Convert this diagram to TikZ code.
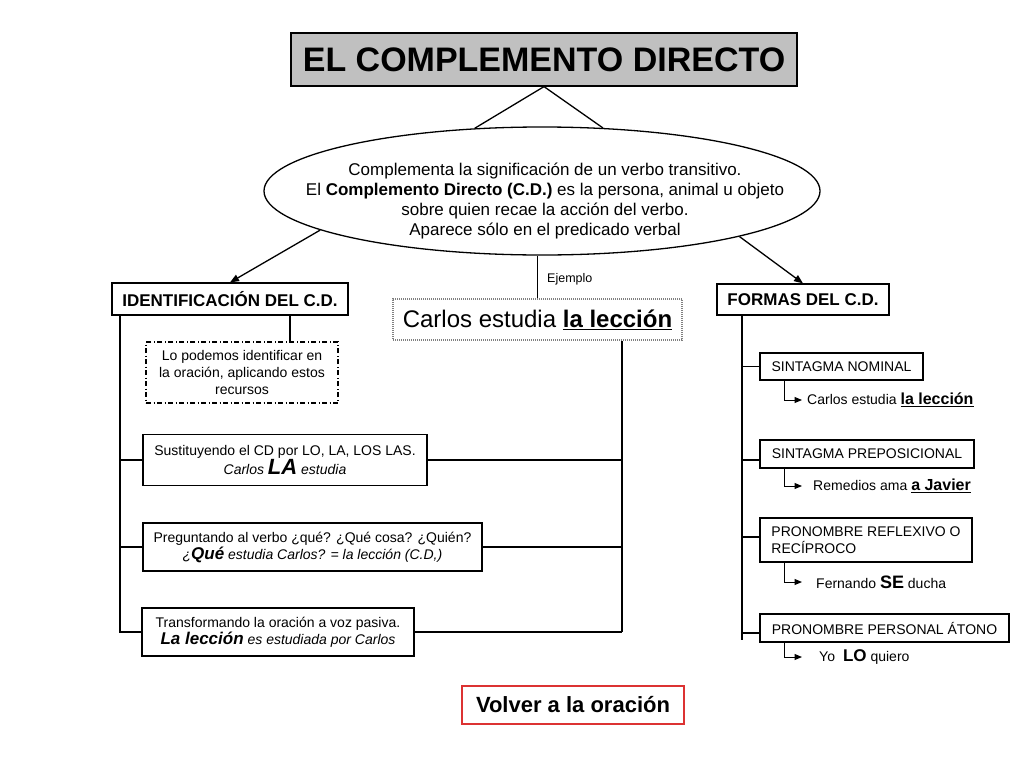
\documentclass[tikz,border=0pt]{standalone}
\usepackage{fontspec}
\setmainfont{Liberation Sans}
\usetikzlibrary{shapes.geometric,arrows.meta}
\newcommand{\myfs}[2]{\fontsize{#1}{#2}\selectfont}
\definecolor{titlegray}{RGB}{192,192,192}
\definecolor{volred}{RGB}{220,50,50}
\begin{document}
\begin{tikzpicture}[x=1pt,y=-1pt,
  box/.style={draw, line width=1.2pt, inner sep=0pt, align=center, font=\myfs{14}{17}},
  ln/.style={line width=1.3pt},
  arr/.style={ln, -{Triangle[length=9pt,width=7pt]}},
  earr/.style={line width=1pt, -{Triangle[length=7.5pt,width=6pt]}},
  ex/.style={anchor=west, inner sep=0pt, font=\myfs{14}{17}}]
\fill[white] (0,0) rectangle (1024,768);
\useasboundingbox (0,0) rectangle (1024,768);

% title and ellipse
\node[box, fill=titlegray, minimum width=506pt, minimum height=53pt, font=\bfseries\myfs{34}{40}] (title) at (544,59.5) {EL COMPLEMENTO DIRECTO};
\node[ellipse, draw, ln, minimum width=556pt, minimum height=128pt, inner sep=0pt] (ell) at (542,191) {};
\node[align=center, inner sep=0pt, font=\myfs{17}{20}] (elltext) at (545,201) {Complementa la significación de un verbo transitivo.\\El \textbf{Complemento Directo (C.D.)} es la persona, animal u objeto\\sobre quien recae la acción del verbo.\\Aparece sólo en el predicado verbal};

% second level
\node[box, minimum width=236pt, minimum height=32pt, font=\bfseries\myfs{17}{20}] (ident) at (230,299) {IDENTIFICACIÓN DEL C.D.};
\node[box, minimum width=172pt, minimum height=31pt, font=\bfseries\myfs{17}{20}] (formas) at (803,299.5) {FORMAS DEL C.D.};
\node[box, draw=gray, dash pattern=on 1pt off 1pt, minimum width=289pt, minimum height=41pt, font=\myfs{24}{28}] (carlos) at (537.5,319.5) {Carlos estudia \underline{\textbf{la lección}}};
\node[anchor=west, inner sep=0pt, font=\myfs{12.5}{15}] (ej) at (547,279) {Ejemplo};

% left column
\node[box, dash pattern=on 5pt off 2.5pt on 1pt off 2.5pt, minimum width=192pt, minimum height=61pt] (lopod) at (242,372.5) {Lo podemos identificar en\\la oración, aplicando estos\\recursos};
\node[box, minimum width=284pt, minimum height=51pt] (sust) at (285,460) {Sustituyendo el CD por LO, LA, LOS LAS.\\\textit{Carlos {\bfseries\myfs{22}{24}LA} estudia}};
\node[box, minimum width=339pt, minimum height=48pt] (preg) at (312.5,547) {Preguntando al verbo ¿qué? ¿Qué cosa? ¿Quién?\\\textit{¿{\bfseries\myfs{17}{20}Qué} estudia Carlos? = la lección (C.D,)}};
\node[box, minimum width=272pt, minimum height=48pt] (trans) at (278,632) {Transformando la oración a voz pasiva.\\\textit{{\bfseries\myfs{17}{20}La lección} es estudiada por Carlos}};

% right column
\node[box, minimum width=163pt, minimum height=27pt] (sn) at (841.5,366.5) {SINTAGMA NOMINAL};
\node[box, minimum width=214pt, minimum height=28pt] (sp) at (867,454) {SINTAGMA PREPOSICIONAL};
\node[box, align=left, minimum width=212pt, minimum height=44pt] (rf) at (866,540) {PRONOMBRE REFLEXIVO O\\RECÍPROCO};
\node[box, minimum width=249pt, minimum height=28pt] (ppa) at (884.5,628) {PRONOMBRE PERSONAL ÁTONO};

\node[ex] (ex1) at (802,400) {\hspace{5pt}Carlos estudia \underline{\textbf{\myfs{16}{19}la lección}}};
\node[ex] (ex2) at (802,486) {\hspace{11pt}Remedios ama \underline{\textbf{\myfs{16}{19}a Javier}}};
\node[ex] (ex3) at (802,582) {\hspace{14pt}Fernando {\bfseries\myfs{18}{20}SE} ducha};
\node[ex] (ex4) at (802,657) {\hspace{17pt}Yo\hspace{8pt}{\bfseries\myfs{17}{20}LO} quiero};

% back button
\node[box, draw=volred, minimum width=222pt, minimum height=38pt, font=\bfseries\myfs{22}{26}] (volver) at (573,705) {Volver a la oración};

% connectors
\draw[ln] (title.south) -- (ell.137);
\draw[ln] (title.south) -- (ell.46);
\draw[arr] (ell.190) -- (ident.north);
\draw[arr] (ell.347) -- (formas.north);
\draw[ln] (carlos.north) -- (carlos.north |- ell.south);

\coordinate (lbot) at (120,633);
\draw[ln] (ident.south -| lbot) -- (lbot);
\draw[ln] ([xshift=60pt]ident.south) -- ([xshift=60pt]ident.south |- lopod.north);
\draw[ln] (sust.west) -- (sust.west -| lbot);
\draw[ln] (preg.west) -- (preg.west -| lbot);
\draw[ln] (trans.west) -- (trans.west -| lbot);

\coordinate (rbot) at (622,632);
\draw[ln] (carlos.south -| rbot) -- (rbot);
\draw[ln] (sust.east) -- (sust.east -| rbot);
\draw[ln] (preg.east) -- (preg.east -| rbot);
\draw[ln] (trans.east) -- (trans.east -| rbot);

\coordinate (fbot) at (742,640);
\draw[ln] (formas.south -| fbot) -- (fbot);
\draw[ln] (sn.west) -- (sn.west -| fbot);
\draw[ln] ([yshift=-6pt]sp.west) -- ([yshift=-6pt]sp.west -| fbot);
\draw[ln] ([yshift=3pt]rf.west) -- ([yshift=3pt]rf.west -| fbot);
\draw[ln] ([yshift=-5pt]ppa.west) -- ([yshift=-5pt]ppa.west -| fbot);

\draw[earr] ([xshift=25pt]sn.south west) |- (ex1.west);
\draw[earr] ([xshift=25pt]sp.south west) |- (ex2.west);
\draw[earr] ([xshift=25pt]rf.south west) |- (ex3.west);
\draw[earr] ([xshift=25pt]ppa.south west) |- (ex4.west);
\end{tikzpicture}
\end{document}
